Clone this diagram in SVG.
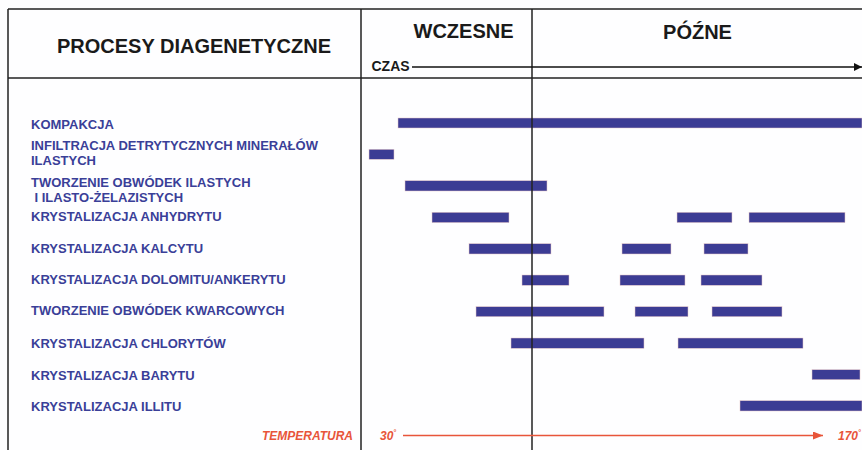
<svg xmlns="http://www.w3.org/2000/svg" width="862" height="450" viewBox="0 0 862 450">
<style>
.frame{stroke:#222;stroke-width:1.5;fill:none}
.hdr{font-family:"Liberation Sans",Arial,sans-serif;font-weight:bold;fill:#1a1a1a}
.lbl{font-family:"Liberation Sans",Arial,sans-serif;font-weight:bold;font-size:13px;fill:#3a3f98}
.bar{fill:#3c3c94;stroke:#e8c8c8;stroke-width:0.5}
.temp{font-family:"Liberation Sans",Arial,sans-serif;font-weight:bold;font-style:italic;font-size:12px;fill:#e8553a}
</style>
<defs>
<marker id="ahBlack" markerWidth="8" markerHeight="8" refX="8" refY="4" orient="auto" markerUnits="userSpaceOnUse">
<path d="M0,0 L8,4 L0,8 Z" fill="#111"/>
</marker>
<marker id="ahRed" markerWidth="10" markerHeight="8" refX="10" refY="4" orient="auto" markerUnits="userSpaceOnUse">
<path d="M0,0 L10,4 L0,8 Z" fill="#e8553a"/>
</marker>
</defs>
<rect width="862" height="450" fill="#fefeff"/>
<g id="frame">
<line class="frame" x1="8" y1="9" x2="862" y2="9"/>
<line class="frame" x1="8" y1="78" x2="862" y2="78"/>
<line class="frame" x1="8" y1="9" x2="8" y2="450"/>
<line class="frame" x1="361" y1="9" x2="361" y2="450"/>
</g>
<g id="header">
<text class="hdr" x="194" y="53" font-size="20" text-anchor="middle">PROCESY DIAGENETYCZNE</text>
<text class="hdr" x="463.5" y="38" font-size="20" text-anchor="middle">WCZESNE</text>
<text class="hdr" x="697.5" y="39" font-size="20" text-anchor="middle">PÓŹNE</text>
<text class="hdr" x="371.5" y="71" font-size="14">CZAS</text>
</g>
<g id="rows">
<g id="kompakcja">
<text class="lbl" x="31" y="128.5">KOMPAKCJA</text>
<rect class="bar" x="398" y="118" width="464" height="10"/>
</g>
<g id="infiltracja">
<text class="lbl" x="31" y="150">INFILTRACJA DETRYTYCZNYCH MINERAŁÓW</text>
<text class="lbl" x="31" y="165">ILASTYCH</text>
<rect class="bar" x="369" y="149.3" width="25" height="10"/>
</g>
<g id="obwodki-ilaste">
<text class="lbl" x="31" y="187">TWORZENIE OBWÓDEK ILASTYCH</text>
<text class="lbl" x="34.5" y="202">I ILASTO-ŻELAZISTYCH</text>
<rect class="bar" x="405" y="180.7" width="142" height="10.3"/>
</g>
<g id="anhydryt">
<text class="lbl" x="31" y="221">KRYSTALIZACJA ANHYDRYTU</text>
<rect class="bar" x="432" y="212.3" width="77" height="10.3"/>
<rect class="bar" x="677" y="212.3" width="55" height="10.3"/>
<rect class="bar" x="749" y="212.3" width="96" height="10.3"/>
</g>
<g id="kalcyt">
<text class="lbl" x="31" y="252.5">KRYSTALIZACJA KALCYTU</text>
<rect class="bar" x="469" y="243.7" width="82" height="10.3"/>
<rect class="bar" x="622" y="243.7" width="49" height="10.3"/>
<rect class="bar" x="704" y="243.7" width="44" height="10.3"/>
</g>
<g id="dolomit">
<text class="lbl" x="31" y="284.3">KRYSTALIZACJA DOLOMITU/ANKERYTU</text>
<rect class="bar" x="522" y="275" width="47" height="10.3"/>
<rect class="bar" x="620" y="275" width="65" height="10.3"/>
<rect class="bar" x="701" y="275" width="61" height="10.3"/>
</g>
<g id="kwarc">
<text class="lbl" x="31" y="315">TWORZENIE OBWÓDEK KWARCOWYCH</text>
<rect class="bar" x="476" y="306.7" width="128" height="10"/>
<rect class="bar" x="635" y="306.7" width="53" height="10"/>
<rect class="bar" x="712" y="306.7" width="70" height="10"/>
</g>
<g id="chloryt">
<text class="lbl" x="31" y="348.3">KRYSTALIZACJA CHLORYTÓW</text>
<rect class="bar" x="511" y="338" width="133" height="10.3"/>
<rect class="bar" x="678" y="338" width="125" height="10.3"/>
</g>
<g id="baryt">
<text class="lbl" x="31" y="380">KRYSTALIZACJA BARYTU</text>
<rect class="bar" x="812" y="369.7" width="48" height="10"/>
</g>
<g id="illit">
<text class="lbl" x="31" y="410.7">KRYSTALIZACJA ILLITU</text>
<rect class="bar" x="740" y="400.7" width="122" height="10.3"/>
</g>
<g id="temperatura">
<text class="temp" x="353" y="440" text-anchor="end">TEMPERATURA</text>
<text class="temp" x="380" y="440">30<tspan font-size="7" dy="-5">°</tspan></text>
<text class="temp" x="838" y="440">170<tspan font-size="7" dy="-5">°</tspan></text>
</g>
</g>
<g id="connectors">
<line x1="532" y1="9" x2="532" y2="450" stroke="#222" stroke-width="1.5"/>
<line x1="412" y1="67" x2="862" y2="67" stroke="#111" stroke-width="1.3" marker-end="url(#ahBlack)"/>
<line x1="403" y1="435.5" x2="823" y2="435.5" stroke="#e8553a" stroke-width="1.3" marker-end="url(#ahRed)"/>
</g>
</svg>
